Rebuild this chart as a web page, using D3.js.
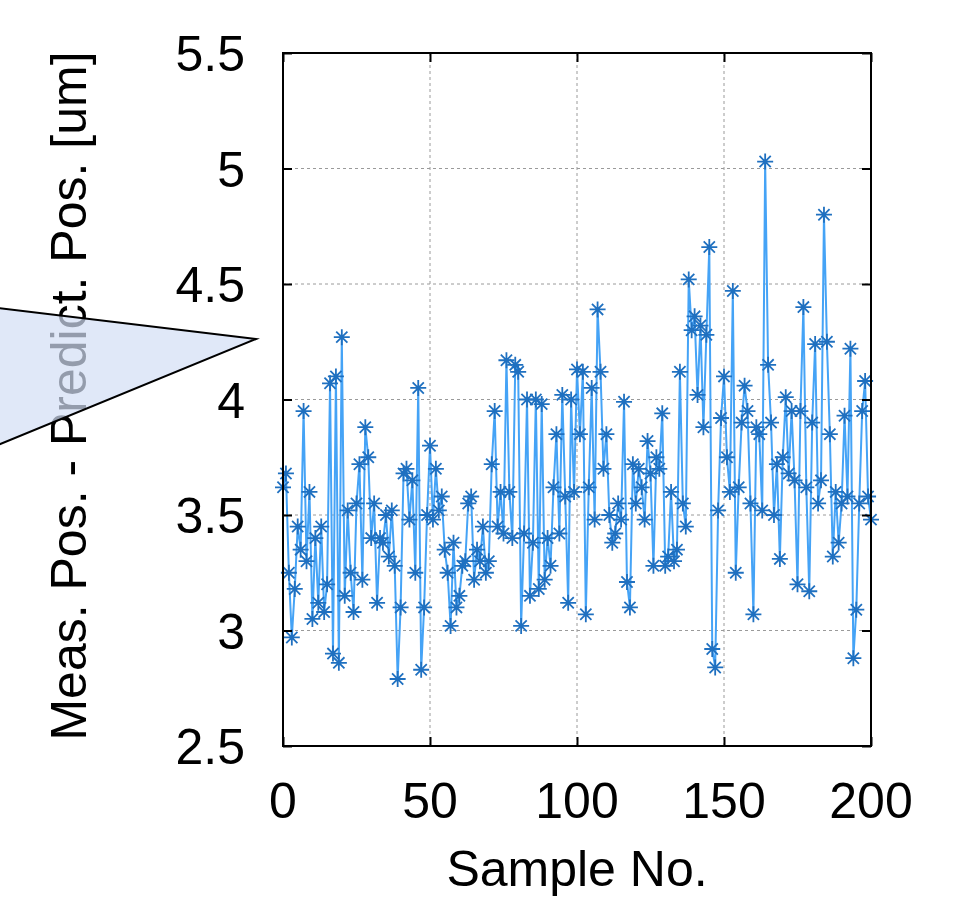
<!DOCTYPE html>
<html>
<head>
<meta charset="utf-8">
<script src="https://cdn.jsdelivr.net/npm/d3@7"></script>
<style>
  body { margin: 0; background: #fff; }
  svg { display: block; font-family: "Liberation Sans", Arial, sans-serif; }
  .tick-label { font-size: 50px; fill: #000; }
  .axis-title { font-size: 50px; fill: #000; }
</style>
</head>
<body>
<div id="chart"></div>
<script>
// measured minus predicted position, one value per sample (sample no. = index)
const posError = [
  3.62, 3.68, 3.25, 2.97, 3.18, 3.45, 3.35, 3.95, 3.30, 3.60,
  3.05, 3.40, 3.12, 3.45, 3.08, 3.20, 4.07, 2.90, 4.10, 2.86,
  4.27, 3.15, 3.52, 3.25, 3.08, 3.55, 3.72, 3.22, 3.88, 3.75,
  3.40, 3.55, 3.12, 3.40, 3.38, 3.50, 3.32, 3.52, 3.28, 2.79,
  3.10, 3.68, 3.70, 3.48, 3.65, 3.25, 4.05, 2.83, 3.10, 3.50,
  3.80, 3.48, 3.70, 3.52, 3.58, 3.35, 3.25, 3.02, 3.38, 3.10,
  3.15, 3.28, 3.30, 3.55, 3.58, 3.22, 3.35, 3.30, 3.45, 3.25,
  3.30, 3.72, 3.95, 3.45, 3.60, 3.42, 4.17, 3.60, 3.40, 4.15,
  4.12, 3.02, 3.42, 4.00, 3.15, 3.38, 4.00, 3.18, 3.98, 3.22,
  3.40, 3.28, 3.62, 3.85, 3.42, 4.02, 3.58, 3.12, 4.00, 3.60,
  4.13, 3.85, 4.12, 3.07, 3.62, 4.05, 3.48, 4.39, 4.12, 3.70,
  3.85, 3.50, 3.38, 3.42, 3.55, 3.48, 3.99, 3.21, 3.10, 3.72,
  3.55, 3.70, 3.62, 3.48, 3.82, 3.68, 3.28, 3.75, 3.70, 3.94,
  3.28, 3.32, 3.60, 3.30, 3.35, 4.12, 3.55, 3.45, 4.52, 4.30,
  4.36, 4.02, 4.32, 3.88, 4.28, 4.66, 2.92, 2.84, 3.52, 3.92,
  4.10, 3.75, 3.60, 4.47, 3.25, 3.62, 3.90, 4.06, 3.95, 3.55,
  3.07, 3.88, 3.85, 3.52, 5.03, 4.15, 3.90, 3.50, 3.72, 3.31,
  3.75, 4.01, 3.68, 3.95, 3.65, 3.20, 3.95, 4.40, 3.62, 3.17,
  3.90, 4.24, 3.55, 3.65, 4.80, 4.25, 3.85, 3.32, 3.60, 3.38,
  3.55, 3.93, 3.58, 4.22, 2.88, 3.09, 3.55, 3.95, 4.08, 3.58,
  3.48
];

const xTicks = [0, 50, 100, 150, 200];
const yTicks = [2.5, 3, 3.5, 4, 4.5, 5, 5.5];
const yTickLabels = ['2.5', '3', '3.5', '4', '4.5', '5', '5.5'];

const xTitle = 'Sample No.';
const yTitle = 'Meas. Pos. - Predict. Pos. [um]';

const width = 961, height = 900;
const margin = {top: 53, right: 90, bottom: 154, left: 283};
const innerW = width - margin.left - margin.right;
const innerH = height - margin.top - margin.bottom;

const svg = d3.select('#chart').append('svg')
    .attr('width', width)
    .attr('height', height);

const chart = svg.append('g')
    .attr('transform', `translate(${margin.left},${margin.top})`);

const xScale = d3.scaleLinear().domain([0, 200]).range([0, innerW]);
const yScale = d3.scaleLinear().domain([2.5, 5.5]).range([innerH, 0]);

// dashed grid
chart.append('g')
    .selectAll('line')
    .data(xTicks.slice(1, -1))
    .join('line')
    .attr('x1', d => xScale(d)).attr('x2', d => xScale(d))
    .attr('y1', 0).attr('y2', innerH)
    .attr('stroke', '#9a9a9a')
    .attr('stroke-dasharray', '3,3');

chart.append('g')
    .selectAll('line')
    .data(yTicks.slice(1, -1))
    .join('line')
    .attr('y1', d => yScale(d)).attr('y2', d => yScale(d))
    .attr('x1', 0).attr('x2', innerW)
    .attr('stroke', '#9a9a9a')
    .attr('stroke-dasharray', '3,3');

// data line and asterisk markers
const line = d3.line()
    .x((d, i) => xScale(i))
    .y(d => yScale(d));

chart.append('path')
    .datum(posError)
    .attr('fill', 'none')
    .attr('stroke', '#45a3f6')
    .attr('stroke-width', 2)
    .attr('d', line);

const r = 8;
const k = r * 0.7;
const star = `M${-r},0L${r},0M0,${-r}L0,${r}` +
    `M${-k},${-k}L${k},${k}M${-k},${k}L${k},${-k}`;

chart.append('g')
    .selectAll('path')
    .data(posError)
    .join('path')
    .attr('transform', (d, i) => `translate(${xScale(i)},${yScale(d)})`)
    .attr('d', star)
    .attr('fill', 'none')
    .attr('stroke', '#1f70c0')
    .attr('stroke-width', 1.8);

// axes: ticks point inwards on all four sides, like the matlab box
const tickLen = 9;
chart.append('g')
    .attr('transform', `translate(0,${innerH})`)
    .call(d3.axisBottom(xScale).tickValues(xTicks).tickSize(-tickLen).tickFormat(''))
    .call(g => g.select('.domain').remove());
chart.append('g')
    .call(d3.axisTop(xScale).tickValues(xTicks).tickSize(-tickLen).tickFormat(''))
    .call(g => g.select('.domain').remove());
chart.append('g')
    .call(d3.axisLeft(yScale).tickValues(yTicks).tickSize(-tickLen).tickFormat(''))
    .call(g => g.select('.domain').remove());
chart.append('g')
    .attr('transform', `translate(${innerW},0)`)
    .call(d3.axisRight(yScale).tickValues(yTicks).tickSize(-tickLen).tickFormat(''))
    .call(g => g.select('.domain').remove());
chart.selectAll('.tick line').attr('stroke', '#000').attr('stroke-width', 2);

chart.append('rect')
    .attr('width', innerW)
    .attr('height', innerH)
    .attr('fill', 'none')
    .attr('stroke', '#000')
    .attr('stroke-width', 2);

// tick labels
chart.append('g')
    .selectAll('text')
    .data(xTicks)
    .join('text')
    .attr('class', 'tick-label')
    .attr('x', d => xScale(d))
    .attr('y', innerH + 72)
    .attr('text-anchor', 'middle')
    .text(d => d);

chart.append('g')
    .selectAll('text')
    .data(yTicks)
    .join('text')
    .attr('class', 'tick-label')
    .attr('x', -38)
    .attr('y', d => yScale(d) + 18)
    .attr('text-anchor', 'end')
    .text((d, i) => yTickLabels[i]);

// axis titles
svg.append('text')
    .attr('class', 'axis-title')
    .attr('x', margin.left + innerW / 2)
    .attr('y', 886)
    .attr('text-anchor', 'middle')
    .text(xTitle);

svg.append('text')
    .attr('class', 'axis-title')
    .attr('text-anchor', 'middle')
    .attr('transform', `translate(86,396) rotate(-90)`)
    .text(yTitle);

// callout pointing at the y axis, drawn over the title
svg.append('path')
    .attr('d', 'M-2,308L256,339L-2,445')
    .attr('fill', '#d3def5')
    .attr('fill-opacity', 0.7)
    .attr('stroke', '#000')
    .attr('stroke-width', 2);
</script>
</body>
</html>
